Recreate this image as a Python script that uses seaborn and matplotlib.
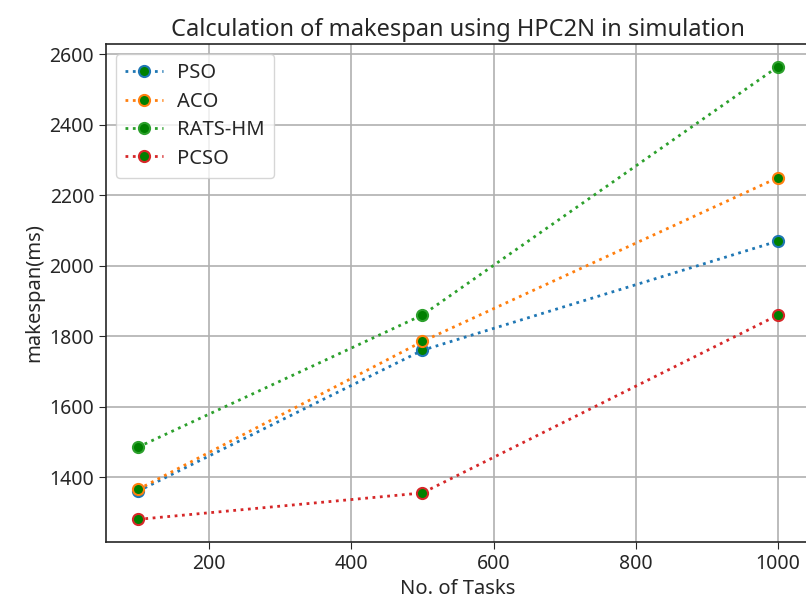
import matplotlib
matplotlib.use("Agg")
import matplotlib.pyplot as plt
import seaborn as sns
import pandas as pd

tasks = [100, 500, 1000]
pso = [1360, 1760, 2070]
aco = [1365, 1785, 2250]
rats_hm = [1485, 1860, 2565]
pcso = [1280, 1355, 1860]
series_names = ["PSO", "ACO", "RATS-HM", "PCSO"]
series_values = [pso, aco, rats_hm, pcso]
colors = ["#1f77b4", "#ff7f0e", "#2ca02c", "#d62728"]

sns.set_style("ticks")
plt.rcParams['font.family'] = ['Noto Sans', 'DejaVu Sans']
plt.rcParams['text.color'] = '#262626'

fig = plt.figure(figsize=(8.06, 5.99), dpi=100)
ax = fig.add_axes([106/806, 1 - 542/599, (810 - 106)/806, (542 - 44)/599])

for name, vals, c in zip(series_names, series_values, colors):
    df = pd.DataFrame({"tasks": tasks, "makespan": vals})
    sns.lineplot(data=df, x="tasks", y="makespan", ax=ax, label=name,
                 color=c, linestyle=":", linewidth=2, marker="o",
                 markersize=8, markerfacecolor="green", markeredgecolor=c,
                 markeredgewidth=1.5)

ax.set_yticks([1400, 1600, 1800, 2000, 2200, 2400, 2600])
ax.set_xticks([200, 400, 600, 800, 1000])
ax.grid(True, color="#b0b0b0", linewidth=1.2)
ax.tick_params(labelsize=14, length=5, colors='#262626')
for s in ax.spines.values():
    s.set_linewidth(1.2)
ax.set_xlabel("No. of Tasks", fontsize=14.5)
ax.set_ylabel("makespan(ms)", fontsize=14.5)
ax.set_title("Calculation of makespan using HPC2N in simulation", fontsize=17)
ax.legend(loc="upper left", fontsize=14.5, borderpad=0.45, handlelength=1.9,
          handletextpad=0.7, labelspacing=0.42, borderaxespad=0.5)

fig.savefig("out.png", dpi=100)
